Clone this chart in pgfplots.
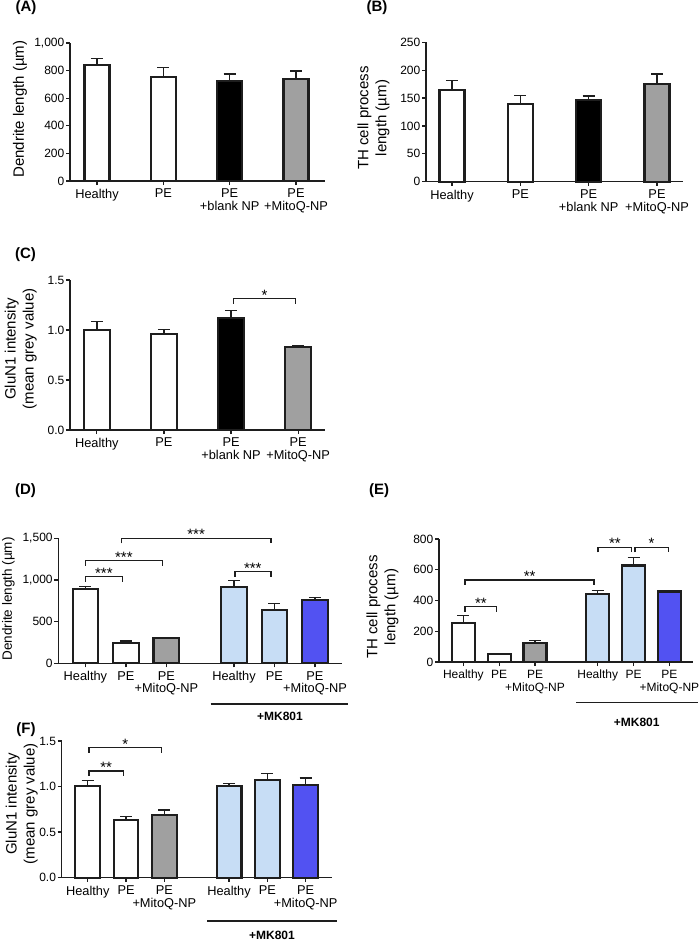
\documentclass[border=0pt]{standalone}
\usepackage{pgfplots}
\pgfplotsset{compat=1.18}
\usepackage{fontspec}
\setmainfont{Liberation Sans}
\usetikzlibrary{calc}

\definecolor{edge}{HTML}{1E1E1E}
\definecolor{lblue}{HTML}{C7DDF5}
\definecolor{dblue}{HTML}{5252F2}
\definecolor{mgray}{HTML}{A0A0A0}

\newcommand\tk{\fontsize{12}{13.5}\selectfont}
\newcommand\cat{\fontsize{12.8}{12.6}\selectfont}
\newcommand\lab{\fontsize{15}{18}\selectfont}
\newcommand\st{\fontsize{15}{15}\selectfont}
\newcommand\pl{\fontsize{15}{15}\selectfont\bfseries}

% significance bracket: x1, x2, y, stars
\newcommand\brk[4]{%
  \draw[line width=1.5pt, edge] ([yshift=-5pt]axis cs:#1,#3) -- (axis cs:#1,#3) -- (axis cs:#2,#3) -- ([yshift=-5pt]axis cs:#2,#3);
  \node[font=\st, anchor=base, inner sep=0pt, yshift=-1.5pt] at ($(axis cs:#1,#3)!0.5!(axis cs:#2,#3)$) {#4};}

\pgfplotsset{
  gp/.style={scale only axis, anchor=south west,
    axis x line*=bottom, axis y line*=left,
    axis line style={line width=1.4pt, edge},
    tick align=outside, major tick length=4pt,
    xtick style={line width=1.2pt, edge}, ytick style={line width=1.3pt, edge},
    ymin=0, clip=false,
    yticklabel style={font=\tk, inner sep=1.5pt},
    xticklabel style={font=\cat, align=center, yshift=-0.5pt},
    ylabel style={font=\lab, align=center, anchor=center},
  },
  plainbar/.style={ybar, bar width=#1, bar shift=0pt, draw=edge, line width=2.2pt},
  gpbar/.style={plainbar=#1,
    error bars/y dir=plus, error bars/y explicit,
    error bars/error bar style={line width=1.4pt, edge},
    error bars/error mark options={rotate=90, mark size=6pt, line width=1.4pt, edge}},
}

\begin{document}
\begin{tikzpicture}
\useasboundingbox (0,0) rectangle (699pt,-940pt);

% ---------------- (A)
\begin{axis}[gp, at={(70pt,-181pt)}, width=255pt, height=138pt,
  xmin=-0.407, xmax=3.437, ymax=1000,
  ytick={0,200,400,600,800,1000}, yticklabels={0,200,400,600,800,{1,000}},
  xtick={0,1,2,3}, xticklabels={Healthy,PE,{PE\\+blank NP},{PE\\+MitoQ-NP}},
  ylabel={Dendrite length (µm)}, ylabel style={at={(axis description cs:-0.196,0.52)}}]
\addplot[gpbar=25pt, fill=white] coordinates {(0,840) +- (0,49)};
\addplot[gpbar=25pt, fill=white] coordinates {(1,756) +- (0,65)};
\addplot[gpbar=25pt, fill=black] coordinates {(2,727) +- (0,48)};
\addplot[gpbar=25pt, fill=mgray] coordinates {(3,737) +- (0,60)};
\end{axis}

% ---------------- (B)
\begin{axis}[gp, at={(426pt,-181.7pt)}, width=257pt, height=139.4pt,
  xmin=-0.38, xmax=3.38, ymax=250,
  ytick={0,50,100,150,200,250},
  yticklabels={0,50,100,150,200,250},
  xtick={0,1,2,3}, xticklabels={Healthy,PE,{PE\\+blank NP},{PE\\+MitoQ-NP}},
  ylabel={TH cell process\\length (µm)}, ylabel style={at={(axis description cs:-0.204,0.457)}}]
\addplot[gpbar=25pt, fill=white] coordinates {(0,164) +- (0,17)};
\addplot[gpbar=25pt, fill=white] coordinates {(1,140) +- (0,15)};
\addplot[gpbar=25pt, fill=black] coordinates {(2,146) +- (0,8)};
\addplot[gpbar=25pt, fill=mgray] coordinates {(3,175) +- (0,18)};
\end{axis}

% ---------------- (C)
\begin{axis}[gp, at={(70pt,-430pt)}, width=255pt, height=150pt,
  xmin=-0.40, xmax=3.40, ymax=1.5,
  ytick={0,0.5,1,1.5}, yticklabels={0.0,0.5,1.0,1.5},
  xtick={0,1,2,3}, xticklabels={Healthy,PE,{PE\\+blank NP},{PE\\+MitoQ-NP}},
  ylabel={GluN1 intensity\\(mean grey value)}, ylabel style={at={(axis description cs:-0.193,0.54)}}]
\addplot[gpbar=26pt, fill=white] coordinates {(0,1.003) +- (0,0.08)};
\addplot[gpbar=26pt, fill=white] coordinates {(1,0.96) +- (0,0.043)};
\addplot[gpbar=26pt, fill=black] coordinates {(2,1.123) +- (0,0.074)};
\addplot[gpbar=26pt, fill=mgray] coordinates {(3,0.833) +- (0,0.01)};
\brk{2.04}{2.96}{1.313}{*}
\end{axis}

% ---------------- (D)
\begin{axis}[gp, at={(58.3pt,-663.3pt)}, width=283.4pt, height=125pt,
  xmin=-0.67, xmax=6.33, ymax=1500,
  ytick={0,500,1000,1500}, yticklabels={0,500,{1,000},{1,500}},
  xtick={0,1,2,3.67,4.67,5.67},
  xticklabels={Healthy,PE,{PE\\+MitoQ-NP},Healthy,PE,{PE\\+MitoQ-NP}},
  ylabel={Dendrite length (µm)},
  ylabel style={font=\fontsize{13.5}{16}\selectfont, at={(axis description cs:-0.176,0.514)}}]
\addplot[gpbar=25.6pt, fill=white] coordinates {(0,888) +- (0,32)};
\addplot[gpbar=25.6pt, fill=white] coordinates {(1,248) +- (0,20)};
\addplot[gpbar=25.6pt, fill=mgray] coordinates {(2,304) +- (0,5)};
\addplot[gpbar=25.6pt, fill=lblue] coordinates {(3.67,916) +- (0,80)};
\addplot[gpbar=25.6pt, fill=lblue] coordinates {(4.67,640) +- (0,76)};
\addplot[gpbar=25.6pt, fill=dblue] coordinates {(5.67,760) +- (0,32)};
\brk{0}{0.91}{1040}{***}
\brk{0}{1.90}{1232}{***}
\brk{0.89}{4.58}{1500}{***}
\brk{3.69}{4.58}{1100}{***}
\end{axis}
\draw[line width=1.4pt, edge] (210.7pt,-704pt) -- (347.7pt,-704pt);
\node[font=\tk\bfseries] at (280pt,-716.5pt) {+MK801};

% ---------------- (E)
\begin{axis}[gp, at={(439pt,-662pt)}, width=254pt, height=123pt,
  xmin=-0.68, xmax=6.41, ymax=800,
  ytick={0,200,400,600,800}, yticklabels={0,200,400,600,800},
  xtick={0,1,2,3.75,4.75,5.75},
  xticklabels={Healthy,PE,{PE\\+MitoQ-NP},Healthy,PE,{PE\\+MitoQ-NP}},
  xticklabel style={font=\tk},
  ylabel={TH cell process\\length (µm)}, ylabel style={at={(axis description cs:-0.222,0.447)}}]
\addplot[gpbar=23pt, fill=white] coordinates {(0,255) +- (0,48)};
\addplot[gpbar=23pt, fill=white] coordinates {(1,50) +- (0,4)};
\addplot[gpbar=23pt, fill=mgray] coordinates {(2,123) +- (0,18)};
\addplot[gpbar=23pt, fill=lblue] coordinates {(3.75,441) +- (0,26)};
\addplot[gpbar=23pt, fill=lblue] coordinates {(4.75,628) +- (0,52)};
\addplot[plainbar=23pt, fill=dblue] coordinates {(5.75,459)};
\brk{0.05}{0.93}{361}{**}
\brk{0.05}{3.65}{534}{**}
\brk{3.76}{4.70}{746}{**}
\brk{4.79}{5.72}{746}{*}
\end{axis}
\draw[line width=1.4pt, edge] (576pt,-702.3pt) -- (698pt,-702.3pt);
\node[font=\tk\bfseries] at (636.7pt,-722pt) {+MK801};

% ---------------- (F)
\begin{axis}[gp, at={(61.7pt,-877.7pt)}, width=270pt, height=136.7pt,
  xmin=-0.68, xmax=6.37, ymax=1.5,
  ytick={0,0.5,1,1.5}, yticklabels={0.0,0.5,1.0,1.5},
  xtick={0,1,2,3.69,4.69,5.69},
  xticklabels={Healthy,PE,{PE\\+MitoQ-NP},Healthy,PE,{PE\\+MitoQ-NP}},
  ylabel={GluN1 intensity\\(mean grey value)}, ylabel style={at={(axis description cs:-0.148,0.54)}}]
\addplot[gpbar=24.7pt, fill=white] coordinates {(0,1.003) +- (0,0.062)};
\addplot[gpbar=24.7pt, fill=white] coordinates {(1,0.637) +- (0,0.033)};
\addplot[gpbar=24.7pt, fill=mgray] coordinates {(2,0.688) +- (0,0.055)};
\addplot[gpbar=24.7pt, fill=lblue] coordinates {(3.69,1.006) +- (0,0.026)};
\addplot[gpbar=24.7pt, fill=lblue] coordinates {(4.69,1.072) +- (0,0.07)};
\addplot[gpbar=24.7pt, fill=dblue] coordinates {(5.69,1.013) +- (0,0.081)};
\brk{0.03}{0.93}{1.171}{**}
\brk{0.03}{1.93}{1.427}{*}
\end{axis}
\draw[line width=1.4pt, edge] (207pt,-921pt) -- (336.7pt,-921pt);
\node[font=\tk\bfseries] at (272pt,-935pt) {+MK801};

% panel letters
\node[font=\pl] at (26pt,-8pt) {(A)};
\node[font=\pl] at (377pt,-8pt) {(B)};
\node[font=\pl] at (25.5pt,-255pt) {(C)};
\node[font=\pl] at (25.5pt,-491pt) {(D)};
\node[font=\pl] at (379pt,-491pt) {(E)};
\node[font=\pl] at (26pt,-730pt) {(F)};
\end{tikzpicture}
\end{document}
